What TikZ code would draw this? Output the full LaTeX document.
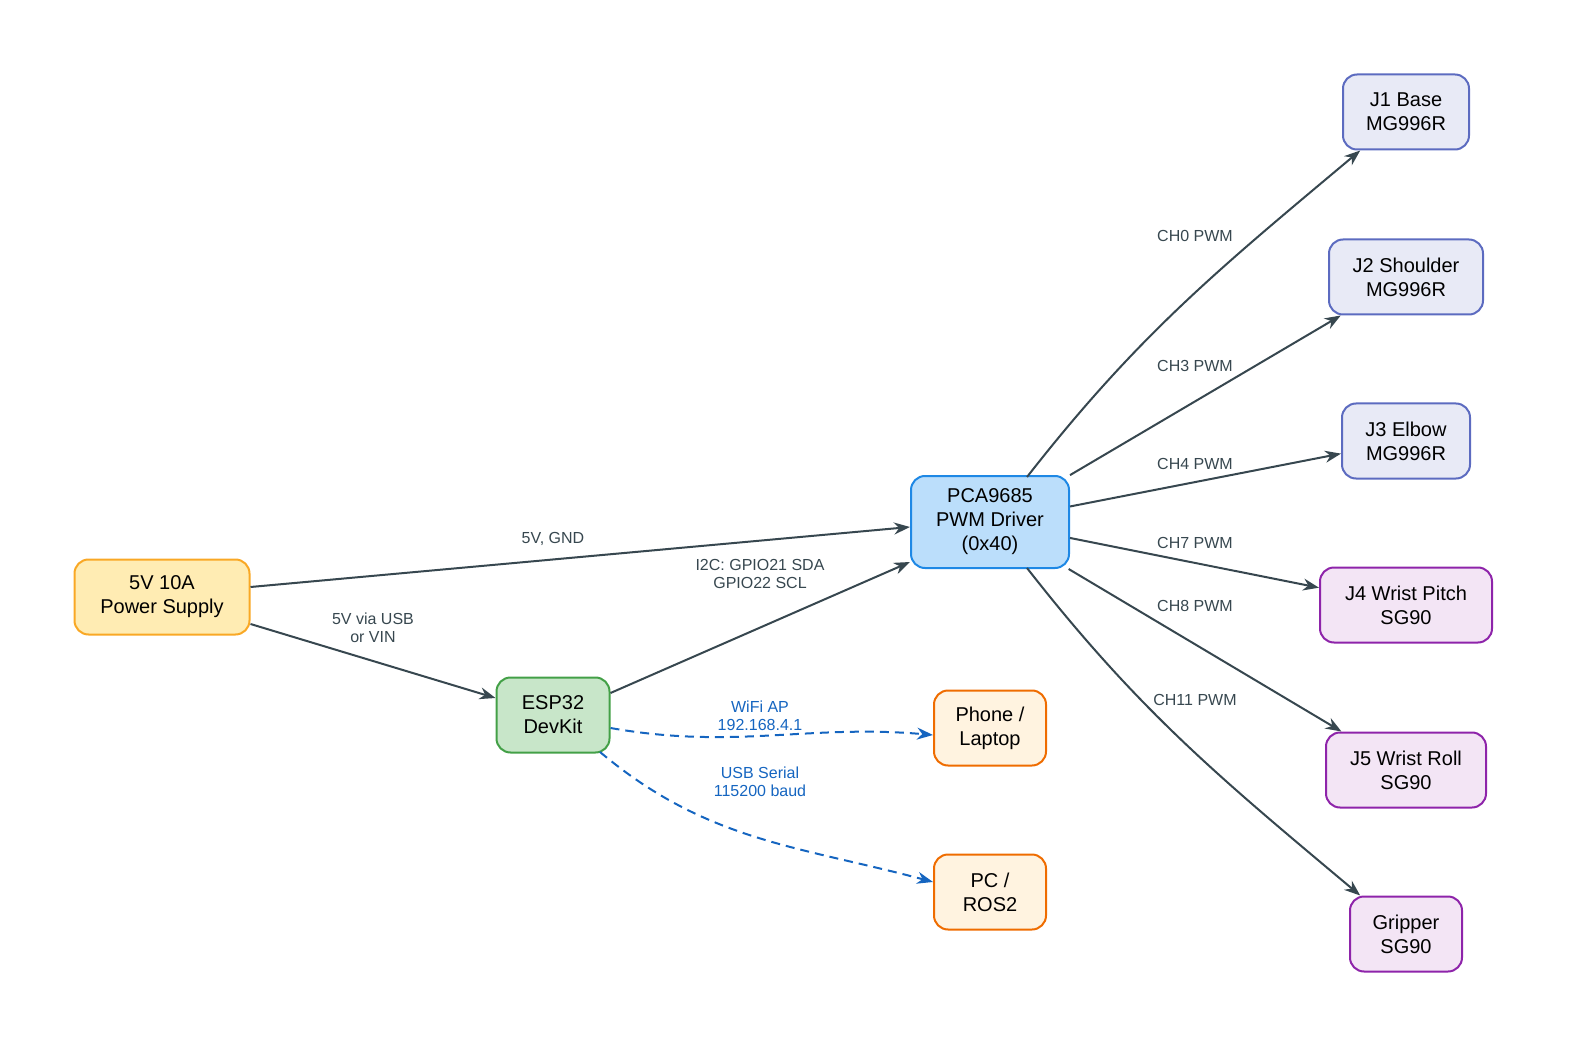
\documentclass[tikz,border=0pt]{standalone}
\usepackage{fontspec}
\setmainfont{Liberation Sans}
\usetikzlibrary{arrows.meta}
\definecolor{ed}{HTML}{37474F}
\definecolor{bl}{HTML}{1565C0}
\begin{document}
\begin{tikzpicture}[x=1pt,y=-1pt,
 box/.style={draw,line width=2pt,rounded corners=14pt,minimum height=75pt,align=center,font=\fontsize{20}{24}\selectfont,inner xsep=10pt},
 pw/.style={box,fill=yellow!30!white,fill={rgb,255:red,255;green,236;blue,179},draw={rgb,255:red,249;green,168;blue,37}},
 es/.style={box,fill={rgb,255:red,200;green,230;blue,201},draw={rgb,255:red,67;green,160;blue,71}},
 pc/.style={box,fill={rgb,255:red,187;green,222;blue,251},draw={rgb,255:red,30;green,136;blue,229}},
 ho/.style={box,fill={rgb,255:red,255;green,243;blue,224},draw={rgb,255:red,239;green,108;blue,0}},
 jb/.style={box,fill={rgb,255:red,232;green,234;blue,246},draw={rgb,255:red,92;green,107;blue,192}},
 jp/.style={box,fill={rgb,255:red,243;green,229;blue,245},draw={rgb,255:red,142;green,36;blue,170}},
 ar/.style={draw=ed,line width=2pt,-{Stealth[length=16pt,width=12pt]}},
 da/.style={draw=bl,line width=2pt,dash pattern=on 9pt off 6pt,-{Stealth[length=16pt,width=12pt]}},
 lb/.style={font=\fontsize{16}{18}\selectfont,text=ed,align=center},
 lbb/.style={lb,text=bl}]
\useasboundingbox (0,0) rectangle (1569,1048);
\node[pw,minimum width=175pt] (pwr) at (162,597) {5V 10A\\Power Supply};
\node[es,minimum width=113pt] (esp) at (553,715) {ESP32\\DevKit};
\node[pc,minimum width=158pt,minimum height=92pt] (pca) at (990,522) {PCA9685\\PWM Driver\\(0x40)};
\node[ho,minimum width=112pt] (ph) at (990,728) {Phone /\\Laptop};
\node[ho,minimum width=112pt] (ros) at (990,892) {PC /\\ROS2};
\node[jb,minimum width=126pt] (j1) at (1406,112) {J1 Base\\MG996R};
\node[jb,minimum width=154pt] (j2) at (1406,277) {J2 Shoulder\\MG996R};
\node[jb,minimum width=128pt] (j3) at (1406,441) {J3 Elbow\\MG996R};
\node[jp,minimum width=172pt] (j4) at (1406,605) {J4 Wrist Pitch\\SG90};
\node[jp,minimum width=160pt] (j5) at (1406,770) {J5 Wrist Roll\\SG90};
\node[jp,minimum width=112pt] (gr) at (1406,934) {Gripper\\SG90};
\draw[ar] (pwr.east|-0,587) -- (pca.west|-0,527);
\draw[ar] (pwr.east|-0,624) -- (esp.west|-0,698);
\draw[ar] (esp.east|-0,693) -- (pca.west|-0,562);
\draw[da] (esp.east|-0,728) to[out=-10,in=175] (ph.west|-0,735);
\draw[da] (600,752) to[out=-40,in=165] (ros.west|-0,882);
\draw[ar] (1027,477) to[out=52,in=220] (j1);
\draw[ar] (pca) -- (j2);
\draw[ar] (pca) -- (j3);
\draw[ar] (pca) -- (j4);
\draw[ar] (pca) -- (j5);
\draw[ar] (1027,568) to[out=-52,in=140] (gr);
\node[lb] (l1) at (553,539) {5V, GND};
\node[lb] (l2) at (373,628) {5V via USB\\or VIN};
\node[lb] (l3) at (760,574) {I2C: GPIO21 SDA\\GPIO22 SCL};
\node[lbb] (l4) at (760,716) {WiFi AP\\192.168.4.1};
\node[lbb] (l5) at (760,782) {USB Serial\\115200 baud};
\node[lb] (c0) at (1195,236) {CH0 PWM};
\node[lb] (c3) at (1195,366) {CH3 PWM};
\node[lb] (c4) at (1195,464) {CH4 PWM};
\node[lb] (c7) at (1195,543) {CH7 PWM};
\node[lb] (c8) at (1195,606) {CH8 PWM};
\node[lb] (c11) at (1195,700) {CH11 PWM};
\end{tikzpicture}
\end{document}
